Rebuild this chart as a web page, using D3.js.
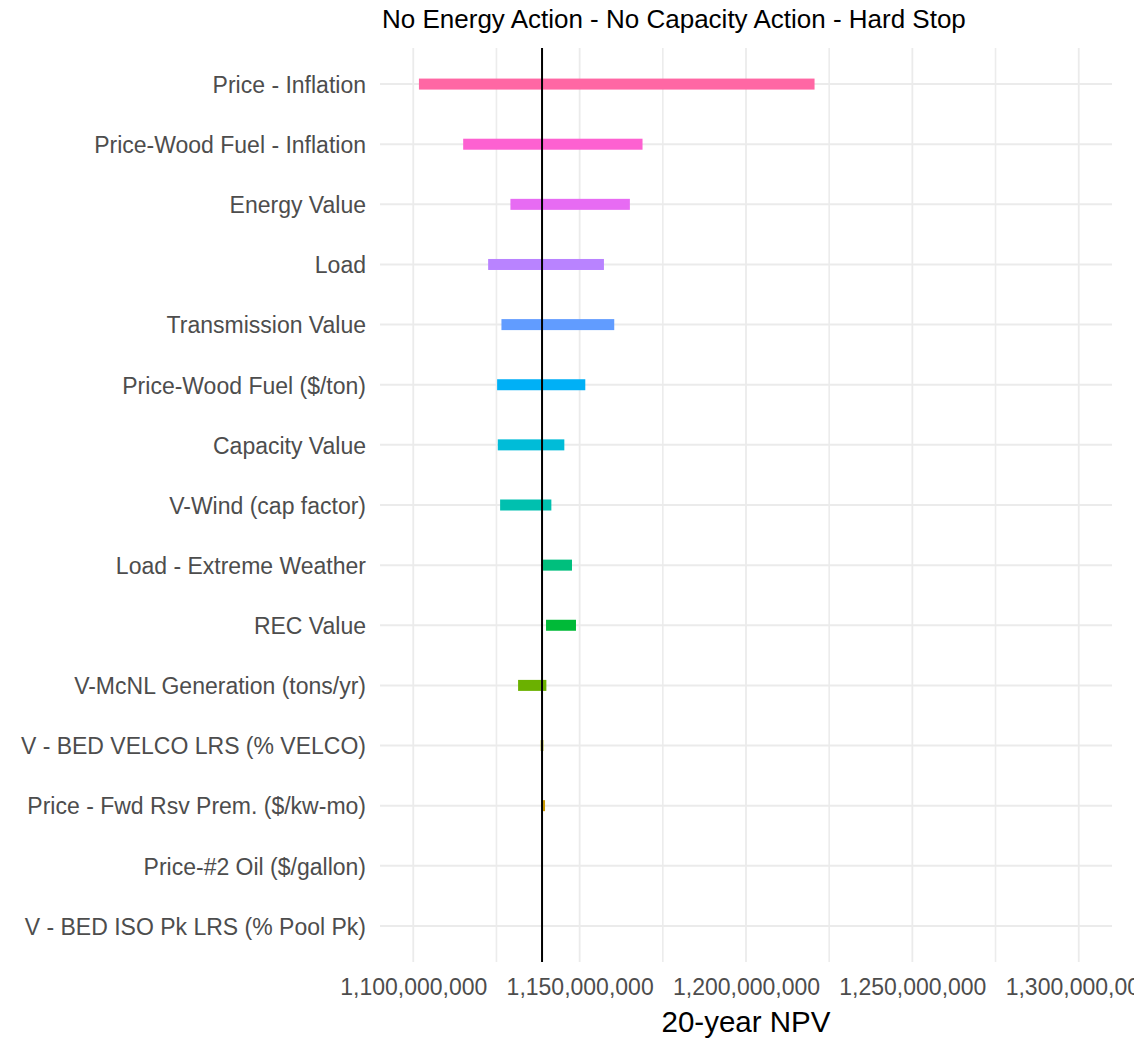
<!DOCTYPE html>
<html>
<head>
<meta charset="utf-8">
<script src="https://cdn.jsdelivr.net/npm/d3@7"></script>
<style>
  html, body { margin: 0; padding: 0; background: #ffffff; }
  svg { display: block; font-family: "Liberation Sans", Arial, sans-serif; }
</style>
</head>
<body>
<svg id="chart" width="1134" height="1040"></svg>
<script>
// ---- data ----
const title = "No Energy Action - No Capacity Action - Hard Stop";
const xTitle = "20-year NPV";
const categories = [
  "Price - Inflation",
  "Price-Wood Fuel - Inflation",
  "Energy Value",
  "Load",
  "Transmission Value",
  "Price-Wood Fuel ($/ton)",
  "Capacity Value",
  "V-Wind (cap factor)",
  "Load - Extreme Weather",
  "REC Value",
  "V-McNL Generation (tons/yr)",
  "V - BED VELCO LRS (% VELCO)",
  "Price - Fwd Rsv Prem. ($/kw-mo)",
  "Price-#2 Oil ($/gallon)",
  "V - BED ISO Pk LRS (% Pool Pk)"
];
const lowValues = [
  1101.7e6, 1115.0e6, 1129.2e6, 1122.5e6, 1126.5e6,
  1125.2e6, 1125.4e6, 1126.1e6, 1139.0e6, 1139.9e6,
  1131.5e6, 1138.3e6, 1139.0e6, 1138.7e6, 1138.7e6
];
const highValues = [
  1220.6e6, 1168.9e6, 1165.1e6, 1157.3e6, 1160.4e6,
  1151.7e6, 1145.4e6, 1141.5e6, 1147.7e6, 1148.9e6,
  1140.0e6, 1139.1e6, 1139.6e6, 1138.7e6, 1138.7e6
];
const baseValue = 1138.7e6;
const xTicks = [1100e6, 1150e6, 1200e6, 1250e6, 1300e6];
const xMinorTicks = [1125e6, 1175e6, 1225e6, 1275e6];
const xDomain = [1090e6, 1310e6];

// ggplot hue palette (15 levels), top row gets the last colour
const palette = ["#F8766D","#E58700","#C99800","#A3A500","#6BB100","#00BA38","#00BF7D",
                 "#00C0AF","#00BCD8","#00B0F6","#619CFF","#B983FF","#E76BF3","#FD61D1","#FF67A4"];

// ---- layout ----
const svg = d3.select("#chart");
const panel = { left: 380, right: 1112, top: 48, bottom: 962 };

const x = d3.scaleLinear().domain(xDomain).range([panel.left, panel.right]);
const y = d3.scalePoint().domain(categories).range([panel.top, panel.bottom]).padding(0.6);

const grid = svg.append("g");
// minor vertical gridlines
grid.selectAll("line.minor").data(xMinorTicks).join("line")
  .attr("x1", d => x(d)).attr("x2", d => x(d))
  .attr("y1", panel.top).attr("y2", panel.bottom)
  .attr("stroke", "#ececec").attr("stroke-width", 1.6);
// major vertical gridlines
grid.selectAll("line.major").data(xTicks).join("line")
  .attr("x1", d => x(d)).attr("x2", d => x(d))
  .attr("y1", panel.top).attr("y2", panel.bottom)
  .attr("stroke", "#ebebeb").attr("stroke-width", 1.8);
// horizontal gridlines
grid.selectAll("line.h").data(categories).join("line")
  .attr("x1", panel.left).attr("x2", panel.right)
  .attr("y1", d => y(d)).attr("y2", d => y(d))
  .attr("stroke", "#ebebeb").attr("stroke-width", 2);

// bars
const barH = 11;
const n = categories.length;
svg.append("g").selectAll("rect").data(categories).join("rect")
  .attr("x", (d, i) => x(Math.min(lowValues[i], highValues[i])))
  .attr("width", (d, i) => Math.abs(x(highValues[i]) - x(lowValues[i])))
  .attr("y", d => y(d) - barH / 2)
  .attr("height", barH)
  .attr("fill", (d, i) => palette[n - 1 - i]);

// base line
svg.append("line")
  .attr("x1", x(baseValue)).attr("x2", x(baseValue))
  .attr("y1", panel.top).attr("y2", panel.bottom)
  .attr("stroke", "#000").attr("stroke-width", 2);

// y axis labels
const yAxis = d3.axisLeft(y).tickSize(0).tickPadding(14);
const yg = svg.append("g").attr("transform", `translate(${panel.left},0)`).call(yAxis);
yg.select(".domain").remove();
yg.selectAll("text")
  .attr("fill", "#4d4d4d")
  .style("font-size", "23px")
  .style("font-family", "'Liberation Sans', Arial, sans-serif")
  .attr("dy", "0.36em");

// x axis labels
const xAxis = d3.axisBottom(x).tickValues(xTicks).tickSize(0).tickPadding(0)
  .tickFormat(d3.format(",.0f"));
const xg = svg.append("g").attr("transform", `translate(0,${panel.bottom})`).call(xAxis);
xg.select(".domain").remove();
xg.selectAll("text")
  .attr("fill", "#4d4d4d")
  .style("font-size", "23px")
  .style("font-family", "'Liberation Sans', Arial, sans-serif")
  .attr("y", 33).attr("dy", 0);

// title
svg.append("text")
  .attr("x", 382).attr("y", 28)
  .style("font-size", "26px")
  .attr("fill", "#000")
  .text(title);

// x axis title
svg.append("text")
  .attr("x", (panel.left + panel.right) / 2).attr("y", 1032)
  .attr("text-anchor", "middle")
  .style("font-size", "29.5px")
  .attr("fill", "#000")
  .text(xTitle);
</script>
</body>
</html>
